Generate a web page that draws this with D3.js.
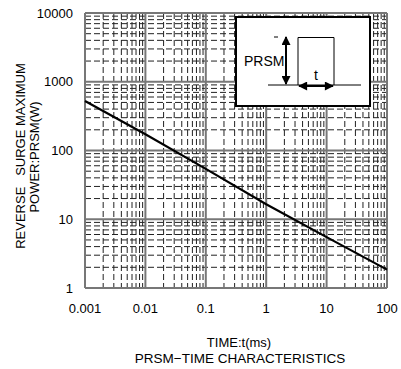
<html>
<script src="https://d3js.org/d3.v7.min.js"></script>
<style>
  body { margin: 0; background: #fff; }
  text { font-family: Arial, "Liberation Sans", sans-serif; fill: #000; }
</style>
<body>
<svg width="401" height="369"></svg>
<script>
// chart data
const timeTicks = [0.001, 0.01, 0.1, 1, 10, 100];
const timeTickLabels = ["0.001", "0.01", "0.1", "1", "10", "100"];
const powerTicks = [1, 10, 100, 1000, 10000];
const powerTickLabels = ["1", "10", "100", "1000", "10000"];
const curveTime = [0.001, 0.01, 0.1, 1, 10, 100];
const curvePower = [525, 172, 54, 16.5, 5.5, 1.85];

const svg = d3.select("svg");
const plotL = 85, plotR = 387, plotT = 13, plotB = 288;

const x = d3.scaleLog().domain([0.001, 100]).range([plotL, plotR]);
const y = d3.scaleLog().domain([1, 10000]).range([plotB, plotT]);

// minor grid (dashed)
let minorX = [], minorY = [];
for (let e = -3; e < 2; e++) for (let k = 2; k <= 9; k++) minorX.push(k * Math.pow(10, e));
for (let e = 0; e < 4; e++) for (let k = 2; k <= 9; k++) minorY.push(k * Math.pow(10, e));

svg.append("g").selectAll("line").data(minorX).enter().append("line")
  .attr("x1", d => x(d)).attr("x2", d => x(d))
  .attr("y1", plotT).attr("y2", plotB)
  .attr("stroke", "#222").attr("stroke-width", 1)
  .attr("stroke-dasharray", "6,3");

svg.append("g").selectAll("line").data(minorY).enter().append("line")
  .attr("y1", d => y(d)).attr("y2", d => y(d))
  .attr("x1", plotL).attr("x2", plotR)
  .attr("stroke", "#222").attr("stroke-width", 1)
  .attr("stroke-dasharray", "6,3");

// major grid
svg.append("g").selectAll("line").data(timeTicks).enter().append("line")
  .attr("x1", d => x(d)).attr("x2", d => x(d))
  .attr("y1", plotT).attr("y2", plotB)
  .attr("stroke", "#777").attr("stroke-width", 2);
svg.append("g").selectAll("line").data(powerTicks).enter().append("line")
  .attr("y1", d => y(d)).attr("y2", d => y(d))
  .attr("x1", plotL).attr("x2", plotR)
  .attr("stroke", "#777").attr("stroke-width", 2);

// tick labels
svg.append("g").selectAll("text").data(powerTicks).enter().append("text")
  .attr("x", 73).attr("y", d => y(d) + 4.5)
  .attr("text-anchor", "end").style("font-size", "13px")
  .text((d, i) => powerTickLabels[i]);
svg.append("g").selectAll("text").data(timeTicks).enter().append("text")
  .attr("x", d => x(d)).attr("y", 313)
  .attr("text-anchor", "middle").style("font-size", "13px")
  .text((d, i) => timeTickLabels[i]);

// curve
const pts = curveTime.map((t, i) => [t, curvePower[i]]);
svg.append("path").datum(pts)
  .attr("d", d3.line().x(d => x(d[0])).y(d => y(d[1])))
  .attr("fill", "none").attr("stroke", "#000").attr("stroke-width", 2.2);

// axis titles
svg.append("text").attr("x", 239).attr("y", 347)
  .attr("text-anchor", "middle").style("font-size", "13px").text("TIME:t(ms)");
svg.append("text").attr("x", 240).attr("y", 363)
  .attr("text-anchor", "middle").style("font-size", "13.5px").text("PRSM\u2212TIME CHARACTERISTICS");
svg.append("text").attr("transform", "translate(25,156) rotate(-90)")
  .attr("text-anchor", "middle").style("font-size", "13px").style("white-space", "pre")
  .text("REVERSE   SURGE MAXIMUM");
svg.append("text").attr("transform", "translate(39,157) rotate(-90)")
  .attr("text-anchor", "middle").style("font-size", "13px").text("POWER:PRSM(W)");

// inset diagram
const defs = svg.append("defs");
["s", "e"].forEach(id => {
  defs.append("marker").attr("id", "arr" + id)
    .attr("viewBox", "0 0 10 10").attr("refX", 9).attr("refY", 5)
    .attr("markerWidth", 5).attr("markerHeight", 4.5)
    .attr("markerUnits", "strokeWidth")
    .attr("orient", id == "e" ? "auto" : "auto-start-reverse")
    .append("path").attr("d", "M0,0 L10,5 L0,10 z").attr("fill", "#000");
});
const ins = svg.append("g");
ins.append("rect").attr("x", 236).attr("y", 17).attr("width", 134).attr("height", 89)
  .attr("fill", "#fff").attr("stroke", "#000").attr("stroke-width", 2);
ins.append("line").attr("x1", 268).attr("x2", 361).attr("y1", 85).attr("y2", 85)
  .attr("stroke", "#000").attr("stroke-width", 1);
ins.append("path").attr("d", "M298,85 V37.5 H334 V85")
  .attr("fill", "none").attr("stroke", "#000").attr("stroke-width", 1);
ins.append("line").attr("x1", 274).attr("x2", 278).attr("y1", 37).attr("y2", 37)
  .attr("stroke", "#000").attr("stroke-width", 1);
ins.append("line").attr("x1", 286).attr("x2", 286).attr("y1", 37).attr("y2", 84)
  .attr("stroke", "#000").attr("stroke-width", 2)
  .attr("marker-start", "url(#arrs)").attr("marker-end", "url(#arre)");
ins.append("line").attr("x1", 299).attr("x2", 333).attr("y1", 86).attr("y2", 86)
  .attr("stroke", "#000").attr("stroke-width", 2)
  .attr("marker-start", "url(#arrs)").attr("marker-end", "url(#arre)");
ins.append("text").attr("x", 244).attr("y", 66).style("font-size", "14px").text("PRSM");
ins.append("text").attr("x", 314).attr("y", 80).style("font-size", "14px").text("t");
</script>
</body>
</html>
